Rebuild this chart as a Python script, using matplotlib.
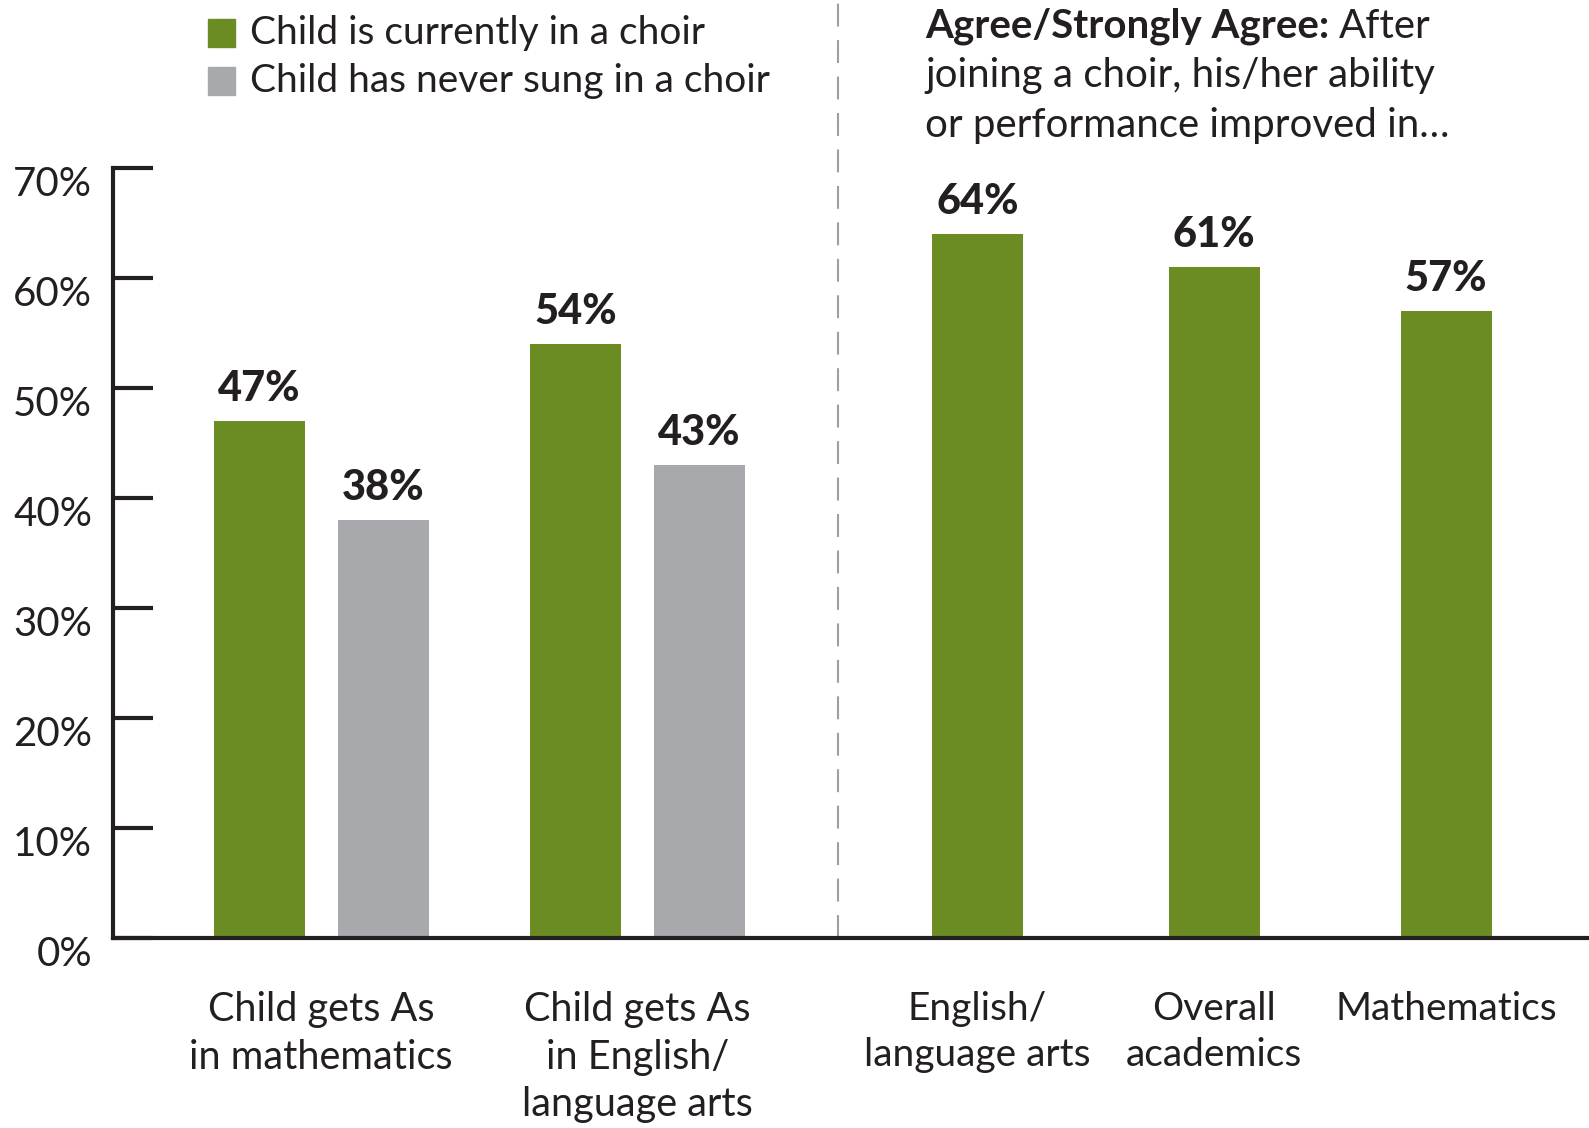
import matplotlib
matplotlib.use("Agg")
import matplotlib.pyplot as plt
import matplotlib.transforms as mtransforms

# ---------------------
# data
# ---------------------
left_groups = ["Child gets As\nin mathematics", "Child gets As\nin English/\nlanguage arts"]
in_choir = [47, 54]
never_sung = [38, 43]

right_cats = ["English/\nlanguage arts", "Overall\nacademics", "Mathematics"]
improved = [64, 61, 57]

legend_labels = ["Child is currently in a choir", "Child has never sung in a choir"]
yticks = [0, 10, 20, 30, 40, 50, 60, 70]
ytick_labels = ["0%", "10%", "20%", "30%", "40%", "50%", "60%", "70%"]

header_bold = "Agree/Strongly Agree:"
header_rest = ["After", "joining a choir, his/her ability", "or performance improved in\u2026"]

GREEN = "#6b8c23"
GRAY = "#a7a9ac"
INK = "#231f20"

plt.rcParams["font.family"] = ["Lato", "DejaVu Sans"]

fig = plt.figure(figsize=(15.89, 11.28), dpi=100)
W, H = 1589, 1128
ax_left, ax_bottom, ax_top = 113, 938, 168
ax = fig.add_axes([ax_left / W, (H - ax_bottom) / H, (W - ax_left) / W, (ax_bottom - ax_top) / H])

# layout in pixel-like units along x
group_centers = [208, 524.5]
offset = 62
bar_w = 91
right_pos = [864.5, 1101, 1333]
divider_x = 725

def value_label(x, v):
    ax.text(x, v + 1.8, f"{v}%", ha="center", va="baseline",
            fontsize=30, fontweight="black", color=INK)

for i, (g, n) in enumerate(zip(in_choir, never_sung)):
    ax.bar(group_centers[i] - offset, g, width=bar_w, color=GREEN)
    ax.bar(group_centers[i] + offset, n, width=bar_w, color=GRAY)
    value_label(group_centers[i] - offset, g)
    value_label(group_centers[i] + offset, n)

ax.bar(right_pos, improved, width=bar_w, color=GREEN)
for x, v in zip(right_pos, improved):
    value_label(x, v)

ax.set_xlim(0, W - ax_left)
ax.set_ylim(0, 70)

# dashed divider runs up past the axes top
ax.plot([divider_x, divider_x], [0, 85], color="#9d9fa2", lw=1.5,
        dashes=(11, 6.5), clip_on=False, zorder=0)

for s in ["top", "right"]:
    ax.spines[s].set_visible(False)
for s in ["left", "bottom"]:
    ax.spines[s].set_linewidth(3.0)
    ax.spines[s].set_color(INK)

ax.set_yticks(yticks)
ax.set_yticklabels(ytick_labels)
ax.tick_params(axis="y", direction="in", length=29, width=3.0, color=INK,
               labelsize=29, labelcolor=INK, pad=15)
# labels sit a bit below their ticks in the original
for lab in ax.get_yticklabels():
    lab.set_transform(lab.get_transform() + mtransforms.ScaledTranslation(0, -13 / 100, fig.dpi_scale_trans))
ax.set_xticks([])

# category labels under the axis
for x, lab in zip(group_centers, left_groups):
    ax.text(x, -4.8, lab, ha="center", va="top", fontsize=28.5, color=INK, linespacing=1.36)
for x, lab in zip(right_pos, right_cats):
    ax.text(x, -4.8, lab, ha="center", va="top", fontsize=28, color=INK, linespacing=1.36)

# legend drawn by hand
for i, (lab, col) in enumerate(zip(legend_labels, [GREEN, GRAY])):
    y = 33 + i * 48
    fig.patches.append(plt.Rectangle((208 / W, 1 - (y + 14) / H), 27 / W, 28 / H,
                                     transform=fig.transFigure, color=col))
    fig.text(250 / W, 1 - y / H, lab, ha="left", va="center", fontsize=28, color=INK)

# right-side header: bold lead-in, then regular text on the same line
hb = fig.text(925 / W, 1 - 26 / H, header_bold, ha="left", va="center",
              fontsize=29, fontweight="bold", color=INK)
renderer = fig.canvas.get_renderer()
bb = hb.get_window_extent(renderer)
fig.text((bb.x1 + 10) / W, 1 - 26 / H, header_rest[0], ha="left", va="center",
         fontsize=29, color=INK)
fig.text(925 / W, 1 - 76 / H, header_rest[1], ha="left", va="center", fontsize=29, color=INK)
fig.text(925 / W, 1 - 126 / H, header_rest[2], ha="left", va="center", fontsize=29, color=INK)

fig.savefig("out.png", dpi=100)
